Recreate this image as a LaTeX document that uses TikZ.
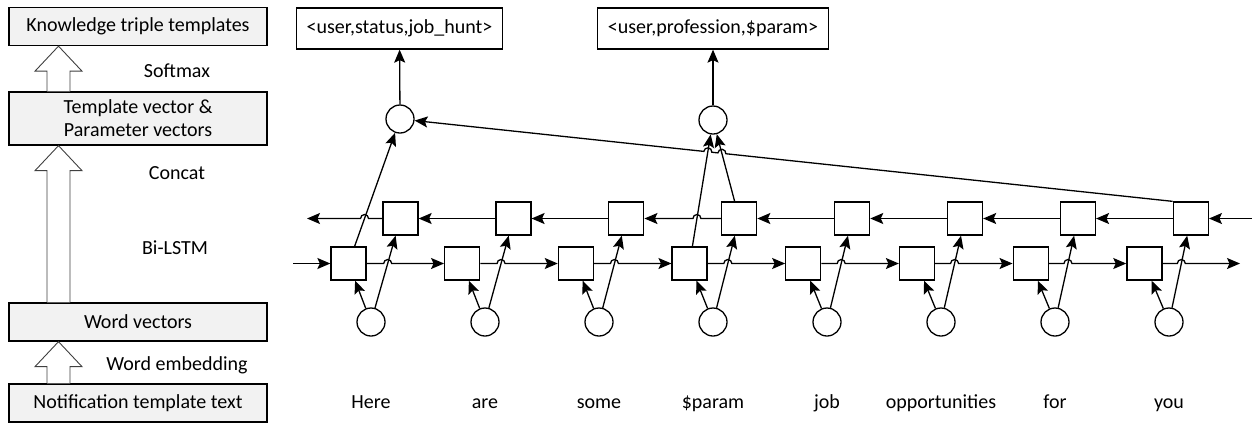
\documentclass[tikz,border=0pt]{standalone}
\usepackage{fontspec}
\setmainfont{Carlito}
\usetikzlibrary{arrows.meta,calc,intersections}

\tikzset{
  every node/.style={font=\fontsize{20}{23}\selectfont},
  arr/.style={line width=1.3pt,-{Stealth[length=13pt,width=11pt,inset=2.5pt]}},
  stage/.style={draw,line width=1.3pt,fill=gray!10,minimum width=258pt,minimum height=38pt,align=center},
  fat/.style={draw=black!75,line width=0.9pt,fill=white},
  cell/.style={draw,line width=1.3pt,fill=white,minimum width=35pt,minimum height=33pt,inner sep=0pt},
  unit/.style={draw,circle,line width=1.3pt,fill=white,minimum size=28pt,inner sep=0pt},
  triple/.style={draw,line width=1.3pt,fill=white,minimum height=41pt,inner xsep=10pt},
  word/.style={anchor=base}
}

\newcommand{\fatup}[2]{%
  \draw[fat] let \p1=(ax |- #1.north), \p2=(ax |- #2.south) in
    (\x1-11.5pt,\y1) -- (\x1-11.5pt,\y2-25pt) -- (\x1-23.5pt,\y2-25pt) -- (\x2,\y2)
    -- (\x1+23.5pt,\y2-25pt) -- (\x1+11.5pt,\y2-25pt) -- (\x1+11.5pt,\y1);}

\begin{document}
\begin{tikzpicture}[x=1pt,y=-1pt]
\useasboundingbox (0,0) rectangle (1252,424);

\node[stage] (ktt) at (138,26.5) {Knowledge triple templates};
\node[stage,minimum height=53pt] (tpv) at (138,118.5) {Template vector \&\\Parameter vectors};
\node[stage] (wv) at (138,322) {Word vectors};
\node[stage] (ntt) at (138,403) {Notification template text};
\coordinate (ax) at (58.5,0);
\fatup{tpv}{ktt}
\fatup{wv}{tpv}
\fatup{ntt}{wv}
\node (lsm) at (177,71) {Softmax};
\node (lcc) at (177,173) {Concat};
\node (lbl) at (175,248) {Bi-LSTM};
\node (lwe) at (177,365) {Word embedding};

\foreach \i/\w in {0/Here,1/are,2/some,3/\$param,4/job,5/opportunities,6/for,7/you}{
  \node[unit] (emb\i) at ({371+114*\i},322) {};
  \node[cell] (fw\i) at ({348.5+113.7*\i},263.5) {};
  \node[cell] (bw\i) at ({400.5+112.9*\i},218.5) {};
  \node[word] (w\i) at ({371+114*\i},408) {\w};
}

\node[unit] (att1) at (400,119) {};
\node[unit] (att2) at (713,120) {};
\node[triple] (kt1) at (399.5,28.5) {<user,status,job\_hunt>};
\node[triple] (kt2) at (713,28.5) {<user,profession,\$param>};
\draw[arr] (att1) -- (kt1);
\draw[arr] (att2) -- (kt2);

\coordinate (fwin) at (293,263.5);
\coordinate (fw8) at (1240,263.5);
\coordinate (bwin) at (1252,218.5);
\coordinate (bwout) at (307,218.5);

\draw[arr] (fwin) -- (fw0);
\foreach \i [evaluate=\i as \j using int(\i+1)] in {0,...,7}{
  \draw[arr] (emb\i) -- (fw\i);
  \draw[arr,name path=upline] (emb\i) -- (bw\i);
  \path[name path=fwline] (fw\i) -- (fw\j);
  \path[name intersections={of=upline and fwline,by=hop}];
  \draw[arr] (fw\i) -- ([xshift=-4pt]hop) arc[start angle=180,end angle=0,radius=4pt] -- (fw\j);
}

\draw[arr] (bwin) -- (bw7);
\foreach \i [evaluate=\i as \j using int(\i-1)] in {7,6,5,4,2,1}
  \draw[arr] (bw\i) -- (bw\j);

\draw[arr,name path=pf0] (fw0) -- (att1);
\draw[arr,name path=pf3] (fw3) -- (att2);
\draw[arr,name path=pb3] (bw3) -- (att2);

\path[name path=bl0] (bw0) -- (bwout);
\path[name path=bl3] (bw3) -- (bw2);
\path[name intersections={of=pf0 and bl0,by=hp0}];
\path[name intersections={of=pf3 and bl3,by=hp3}];
\draw[arr] (bw0) -- ([xshift=4pt]hp0) arc[start angle=0,end angle=180,radius=4pt] -- (bwout);
\draw[arr] (bw3) -- ([xshift=4pt]hp3) arc[start angle=0,end angle=180,radius=4pt] -- (bw2);

\path[name path=longline] (bw7.north west) -- (att1);
\path[name intersections={of=longline and pb3,by=hb}];
\path[name intersections={of=longline and pf3,by=hf}];
\draw[arr] (bw7.north west) -- ($(hb)!4pt!(bw7.north west)$)
  arc[start angle=-6.1,end angle=173.9,radius=4pt]
  -- ($(hf)!4pt!(bw7.north west)$)
  arc[start angle=-6.1,end angle=173.9,radius=4pt] -- (att1);
\end{tikzpicture}
\end{document}
